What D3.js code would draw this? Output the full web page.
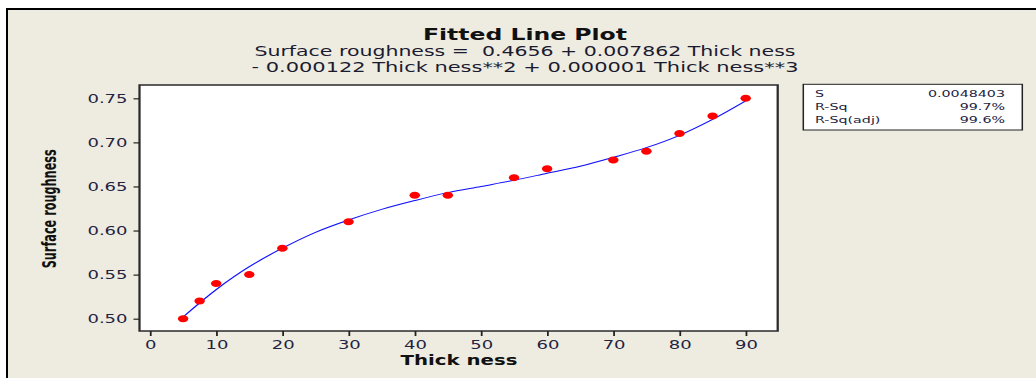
<!DOCTYPE html>
<html>
<head>
<meta charset="utf-8">
<script src="https://cdn.jsdelivr.net/npm/d3@7"></script>
<style>
  body { margin: 0; background: #fff; }
  svg { display: block; }
</style>
</head>
<body>
<div id="chart"></div>
<script>
// observed points
var thickness = [5, 7.5, 10, 15, 20, 30, 40, 45, 55, 60, 70, 75, 80, 85, 90];
var roughness = [0.50, 0.52, 0.54, 0.55, 0.58, 0.61, 0.64, 0.64, 0.66, 0.67, 0.68, 0.69, 0.71, 0.73, 0.75];

// fitted line
var fitX = [5, 10, 15, 20, 25, 30, 35, 40, 45, 50, 55, 60, 65, 70, 75, 80, 85, 90];
var fitY = [0.502, 0.533, 0.559, 0.580, 0.598, 0.612, 0.624, 0.634, 0.643, 0.650,
            0.657, 0.665, 0.673, 0.683, 0.694, 0.708, 0.726, 0.747];

var xTicks = [0, 10, 20, 30, 40, 50, 60, 70, 80, 90];
var yTicks = [0.50, 0.55, 0.60, 0.65, 0.70, 0.75];

var statLabels = ["S", "R-Sq", "R-Sq(adj)"];
var statValues = ["0.0048403", "99.7%", "99.6%"];

// the original screenshot is stretched sideways, so everything is drawn in a
// group that is scaled horizontally
var SX = 1.5;
var W = 1036, H = 378;
var box = {left: 139.5, right: 777.7, top: 85, bottom: 331};

var svg = d3.select("#chart").append("svg")
    .attr("width", W)
    .attr("height", H);

svg.append("rect")
    .attr("x", 7).attr("y", 9)
    .attr("width", W + 20).attr("height", H + 20)
    .attr("fill", "#eeebe1")
    .attr("stroke", "#000")
    .attr("stroke-width", 2);

var g = svg.append("g").attr("transform", "scale(" + SX + ",1)");

var x = d3.scaleLinear().domain([0, 90]).range([150 / SX, 745.7 / SX]);
var y = d3.scaleLinear().domain([0.5, 0.75]).range([318.7, 98.3]);

// plot area
g.append("rect")
    .attr("x", box.left / SX).attr("y", box.top)
    .attr("width", (box.right - box.left) / SX)
    .attr("height", box.bottom - box.top)
    .attr("fill", "#fff")
    .attr("stroke", "#2a2a2a")
    .attr("stroke-width", 1.5);

// axes
var xAxis = g.append("g")
    .attr("transform", "translate(0," + box.bottom + ")")
    .call(d3.axisBottom(x).tickValues(xTicks).tickSize(5).tickPadding(4).tickFormat(d3.format("d")));

var yAxis = g.append("g")
    .attr("transform", "translate(" + box.left / SX + ",0)")
    .call(d3.axisLeft(y).tickValues(yTicks).tickSize(4).tickPadding(4).tickFormat(d3.format(".2f")));

[xAxis, yAxis].forEach(function(a) {
  a.select(".domain").remove();
  a.selectAll(".tick line").attr("stroke", "#222").attr("stroke-width", 1.2);
  a.selectAll(".tick text")
    .attr("fill", "#23233f")
    .style("font-family", "'DejaVu Sans', Verdana, sans-serif")
    .style("font-size", "12px");
});

// fitted line
var line = d3.line()
    .x(function(d, i) { return x(fitX[i]); })
    .y(function(d) { return y(d); })
    .curve(d3.curveCatmullRom);

g.append("path")
    .datum(fitY)
    .attr("d", line)
    .attr("fill", "none")
    .attr("stroke", "#1010ff")
    .attr("stroke-width", 1);

// points
g.selectAll(".pt")
    .data(roughness)
  .enter().append("circle")
    .attr("class", "pt")
    .attr("cx", function(d, i) { return x(thickness[i]); })
    .attr("cy", function(d) { return y(d); })
    .attr("r", 3.5)
    .attr("fill", "#ff0000");

// titles
var font = "'DejaVu Sans', Verdana, sans-serif";
var cx = 525 / SX;

g.append("text")
    .attr("x", cx).attr("y", 40.5)
    .attr("text-anchor", "middle")
    .attr("textLength", 204 / SX).attr("lengthAdjust", "spacingAndGlyphs")
    .style("font-family", font).style("font-size", "15px").style("font-weight", "bold")
    .attr("fill", "#111")
    .text("Fitted Line Plot");

g.append("text")
    .attr("x", cx).attr("y", 56)
    .attr("text-anchor", "middle")
    .attr("textLength", 541 / SX).attr("lengthAdjust", "spacingAndGlyphs")
    .style("font-family", font).style("font-size", "13.5px")
    .attr("fill", "#1b1b30")
    .attr("xml:space", "preserve")
    .text("Surface roughness =  0.4656 + 0.007862 Thick ness");

g.append("text")
    .attr("x", cx).attr("y", 72.3)
    .attr("text-anchor", "middle")
    .attr("textLength", 547 / SX).attr("lengthAdjust", "spacingAndGlyphs")
    .style("font-family", font).style("font-size", "13.5px")
    .attr("fill", "#1b1b30")
    .text("- 0.000122 Thick ness**2 + 0.000001 Thick ness**3");

// axis titles
g.append("text")
    .attr("x", 459 / SX).attr("y", 365)
    .attr("text-anchor", "middle")
    .attr("textLength", 117 / SX).attr("lengthAdjust", "spacingAndGlyphs")
    .style("font-family", font).style("font-size", "14px").style("font-weight", "bold")
    .attr("fill", "#111")
    .text("Thick ness");

g.append("text")
    .attr("transform", "translate(" + 56 / SX + "," + 208.8 + ") rotate(-90)")
    .attr("text-anchor", "middle")
    .attr("textLength", 119).attr("lengthAdjust", "spacingAndGlyphs")
    .style("font-family", font).style("font-size", "13px").style("font-weight", "bold")
    .attr("fill", "#111")
    .text("Surface roughness");

// stats box
var leg = {left: 803.3, right: 1022.3, top: 84.3, bottom: 130};
g.append("rect")
    .attr("x", leg.left / SX).attr("y", leg.top)
    .attr("width", (leg.right - leg.left) / SX)
    .attr("height", leg.bottom - leg.top)
    .attr("fill", "#fff")
    .attr("stroke", "#222")
    .attr("stroke-width", 1);

var rows = g.selectAll(".stat")
    .data(statLabels)
  .enter().append("g")
    .attr("class", "stat")
    .attr("transform", function(d, i) { return "translate(0," + (97.3 + i * 13) + ")"; });

rows.append("text")
    .attr("x", 815 / SX)
    .style("font-family", font).style("font-size", "9.5px")
    .attr("fill", "#23233f")
    .text(function(d) { return d; });

rows.append("text")
    .attr("x", 1005 / SX)
    .attr("text-anchor", "end")
    .style("font-family", font).style("font-size", "9.5px")
    .attr("fill", "#23233f")
    .text(function(d, i) { return statValues[i]; });
</script>
</body>
</html>
